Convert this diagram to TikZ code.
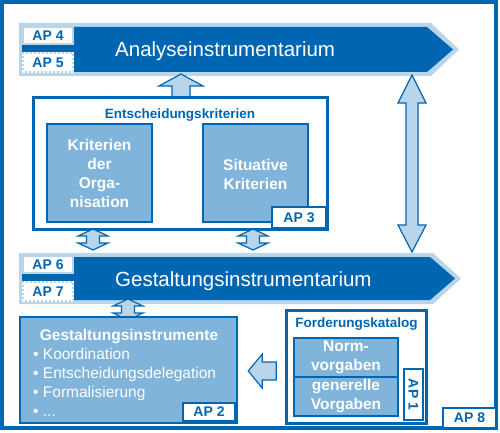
\documentclass[tikz,border=0pt]{standalone}
\usepackage{fontspec}
\setmainfont{Liberation Sans}
\usetikzlibrary{calc}
\definecolor{dkb}{RGB}{0,102,178}
\definecolor{mdb}{RGB}{128,180,219}
\definecolor{ltb}{RGB}{184,213,236}
\begin{document}
\begin{tikzpicture}[x=1pt,y=-1pt,
  apbox/.style={draw=dkb, fill=white, line width=2pt, inner sep=0pt, text=dkb,
    font=\fontsize{14}{14}\bfseries\selectfont},
  aplight/.style={draw=ltb, fill=white, line width=2pt, inner sep=0pt, text=dkb,
    font=\fontsize{14}{14}\bfseries\selectfont},
  apdash/.style={aplight, postaction={draw=white, line width=2pt, dash pattern=on 2pt off 2pt}},
  midbox/.style={draw=dkb, fill=mdb, line width=1.5pt, inner sep=0pt},
  framebox/.style={draw=dkb, fill=white, line width=3pt, inner sep=0pt},
  whitetxt/.style={text=white, inner sep=0pt, align=center,
    font=\fontsize{15.5}{19}\bfseries\selectfont},
  titletxt/.style={text=dkb, inner sep=0pt, font=\fontsize{13.5}{16}\bfseries\selectfont},
  bigtxt/.style={text=white, inner sep=0pt, font=\fontsize{20.5}{24}\selectfont},
  bullettxt/.style={text=white, inner sep=0pt, anchor=base west, font=\fontsize{15.5}{19}\selectfont},
  blk/.style={fill=ltb, draw=dkb, line width=1.2pt, line join=miter},
  smalldbl/.pic={\draw[blk] (0,-10.5) -- (15,-3.5) -- (6.5,-3.5) -- (6.5,3.5) -- (15,3.5) -- (0,10.5)
      -- (-15,3.5) -- (-6.5,3.5) -- (-6.5,-3.5) -- (-15,-3.5) -- cycle;}
]
\useasboundingbox (0,0) rectangle (500,433);

% outer frame
\node[draw=dkb, line width=3.5pt, minimum width=494pt, minimum height=426pt, inner sep=0pt] (frame) at (249,215) {};
\node[apbox, minimum width=53pt, minimum height=20pt] (ap8) at (469.5,418) {AP 8};

% Analyseinstrumentarium arrow
\fill[ltb] (19,23) -- (431,23) -- (459,49.5) -- (431,76) -- (19,76) -- cycle;
\fill[dkb] (22,27) -- (427,27) -- (453,49.5) -- (427,72) -- (22,72) -- cycle;
\node[bigtxt, anchor=base west] (ana) at (115,57) {Analyseinstrumentarium};
\node[aplight, minimum width=50pt, minimum height=17pt] (ap4) at (48,35.5) {AP 4};
\node[apdash, minimum width=50pt, minimum height=19pt] (ap5) at (48,62.5) {AP 5};
\coordinate (anaS) at (181,74);
\coordinate (anaR) at (412,75);

% Gestaltungsinstrumentarium arrow
\fill[ltb] (19,253) -- (433,253) -- (461,278.5) -- (433,304) -- (19,304) -- cycle;
\fill[dkb] (22,257) -- (430,257) -- (455,278.5) -- (430,300) -- (22,300) -- cycle;
\node[bigtxt, anchor=base west] (gest) at (115,286) {Gestaltungsinstrumentarium};
\node[aplight, minimum width=50pt, minimum height=17pt] (ap6) at (48,264.5) {AP 6};
\node[apdash, minimum width=50pt, minimum height=19pt] (ap7) at (48,291.5) {AP 7};
\coordinate (gesR) at (412,252);

% up arrow from Entscheidungskriterien to Analyse
\coordinate (ua0) at (181,98);
\draw[blk] ($(ua0)+(-9,0)$) -- ($(ua0)+(-9,-12)$) -- ($(ua0)+(-22,-12)$) -- (anaS)
  -- ($(ua0)+(22,-12)$) -- ($(ua0)+(9,-12)$) -- ($(ua0)+(9,0)$) -- cycle;

% Entscheidungskriterien
\node[framebox, minimum width=294pt, minimum height=131pt] (ek) at (180,163.5) {};
\node[titletxt, anchor=base] (ekt) at (180,118) {Entscheidungskriterien};
\node[midbox, minimum width=105pt, minimum height=98pt] (k1) at (99.5,173) {};
\node[whitetxt] (k1t) at (k1.center) {Kriterien\\der\\Orga-\\nisation};
\node[midbox, minimum width=105pt, minimum height=98pt] (k2) at (255.5,173) {};
\node[whitetxt] (k2t) at ($(k2.center)+(0,1)$) {Situative\\Kriterien};
\node[apbox, minimum width=54pt, minimum height=21pt] (ap3) at (299,217.5) {AP 3};

% big double arrow
\draw[blk] (anaR) -- ($(anaR)+(14,28)$) -- ($(anaR)+(6,28)$) -- ($(gesR)+(6,-27)$) -- ($(gesR)+(14,-27)$)
  -- (gesR) -- ($(gesR)+(-14,-27)$) -- ($(gesR)+(-6,-27)$) -- ($(anaR)+(-6,28)$) -- ($(anaR)+(-14,28)$) -- cycle;

% small double arrows
\pic at (93,239.5) {smalldbl};
\pic at (253,239.5) {smalldbl};
\pic at (128,309.5) {smalldbl};

% Gestaltungsinstrumente
\node[midbox, line width=2.5pt, minimum width=217pt, minimum height=106pt] (gi) at (128.5,370) {};
\node[whitetxt, anchor=base] (git) at (129,340) {Gestaltungsinstrumente};
\node[bullettxt] (gi1) at (33,359) {• Koordination};
\node[bullettxt] (gi2) at (33,378) {• Entscheidungsdelegation};
\node[bullettxt] (gi3) at (33,397) {• Formalisierung};
\node[bullettxt] (gi4) at (33,416) {• ...};
\node[apbox, minimum width=52pt, minimum height=18pt] (ap2) at (209,412) {AP 2};

% Forderungskatalog
\node[framebox, minimum width=140pt, minimum height=113pt] (fk) at (356,366.5) {};
\node[titletxt, anchor=base] (fkt) at (356.5,327) {Forderungskatalog};
\node[midbox, minimum width=104pt, minimum height=39pt] (nv) at (346,357.5) {};
\node[whitetxt] (nvt) at (nv.center) {Norm-\\vorgaben};
\node[midbox, minimum width=104pt, minimum height=39pt] (gv) at (346,396.5) {};
\node[whitetxt] (gvt) at (gv.center) {generelle\\Vorgaben};
\node[apbox, minimum width=19pt, minimum height=51pt] (ap1) at (413.5,394.5) {};
\node[text=dkb, inner sep=0pt, rotate=-90, font=\fontsize{14}{14}\bfseries\selectfont] (ap1t) at (ap1.center) {AP 1};

% left arrow from Forderungskatalog to Gestaltungsinstrumente
\coordinate (la0) at ($(gi.east)+(10,1)$);
\draw[blk] (la0) -- ($(la0)+(14,-17)$) -- ($(la0)+(14,-9)$) -- ($(la0)+(28,-9)$) -- ($(la0)+(28,9)$)
  -- ($(la0)+(14,9)$) -- ($(la0)+(14,17)$) -- cycle;
\end{tikzpicture}
\end{document}
